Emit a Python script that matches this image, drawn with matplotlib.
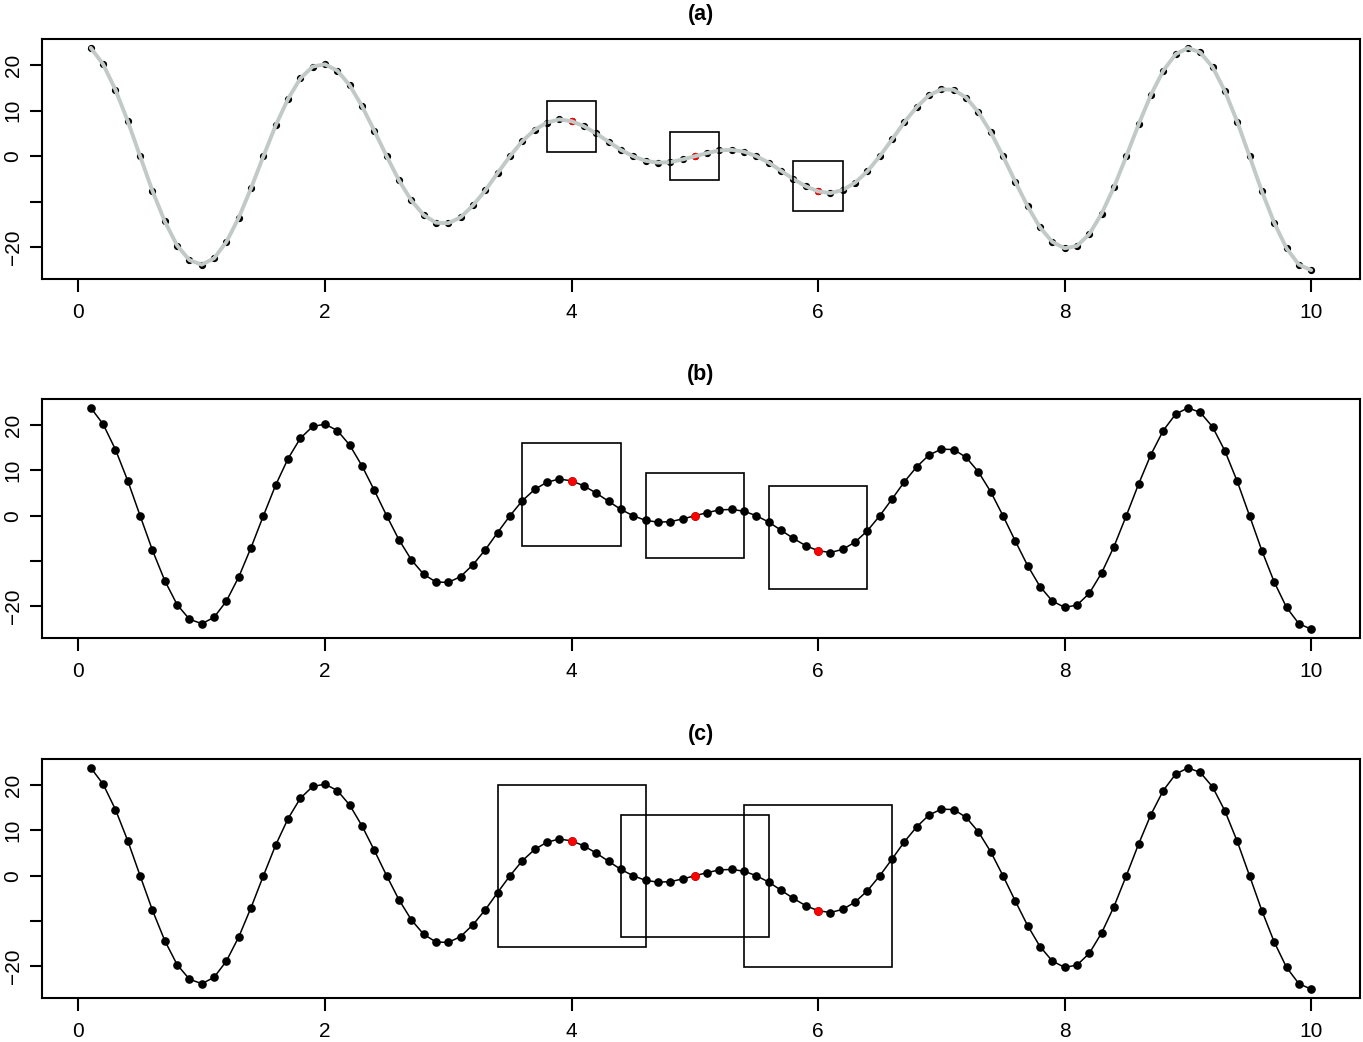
import matplotlib
matplotlib.use("Agg")
import matplotlib.pyplot as plt
from matplotlib.patches import Rectangle
import numpy as np

plt.rcParams['font.family'] = ['Liberation Sans', 'DejaVu Sans']

# x positions 0.1 .. 10.0
x = [round(0.1 * k, 1) for k in range(1, 101)]
y = [23.8, 20.2, 14.6, 7.7, 0.0, -7.6, -14.3, -19.6, -22.8, -23.8,
     -22.4, -18.8, -13.5, -7.0, 0.0, 6.8, 12.6, 17.1, 19.7, 20.2,
     18.8, 15.6, 11.0, 5.6, 0.0, -5.3, -9.7, -12.9, -14.6, -14.7,
     -13.4, -10.8, -7.5, -3.7, 0.0, 3.3, 5.8, 7.4, 8.1, 7.7,
     6.6, 5.0, 3.2, 1.4, 0.0, -1.0, -1.4, -1.3, -0.7, 0.0,
     0.7, 1.3, 1.4, 1.0, 0.0, -1.4, -3.2, -5.0, -6.6, -7.7,
     -8.1, -7.4, -5.8, -3.3, 0.0, 3.7, 7.5, 10.8, 13.4, 14.7,
     14.6, 12.9, 9.7, 5.3, 0.0, -5.6, -11.0, -15.6, -18.8, -20.2,
     -19.7, -17.1, -12.6, -6.8, 0.0, 7.0, 13.5, 18.8, 22.4, 23.8,
     22.8, 19.6, 14.3, 7.6, 0.0, -7.7, -14.6, -20.2, -23.8, -25.0]

highlight_x = [4.0, 5.0, 6.0]
panel_titles = ["(a)", "(b)", "(c)"]
window_halfwidths = [0.2, 0.4, 0.6]
window_pads = [4, 8, 12]
xticks = [0, 2, 4, 6, 8, 10]
yticks = [-20, -10, 0, 10, 20]
yticklabels = ["\u221220", "", "0", "10", "20"]

xa = np.array(x)
ya = np.array(y)

fig = plt.figure(figsize=(13.63, 10.42), dpi=100)
W, H = 1363, 1042
panels_px = [(39, 279), (399, 638), (759, 998)]
left_px, right_px = 42, 1360

xr = xa.max() - xa.min()
yr = ya.max() - ya.min()
xlim = (xa.min() - 0.04 * xr, xa.max() + 0.04 * xr)
ylim = (ya.min() - 0.04 * yr, ya.max() + 0.04 * yr)

for i, (top, bot) in enumerate(panels_px):
    ax = fig.add_axes([left_px / W, 1 - bot / H, (right_px - left_px) / W, (bot - top) / H])
    hi = np.isin(np.round(xa, 1), highlight_x)
    if i == 0:
        ax.plot(xa, ya, 'o', color='black', ms=4.2, zorder=2)
        ax.plot(xa[hi], ya[hi], 'o', color='red', ms=4.2, zorder=3)
        ax.plot(xa, ya, '-', color='#c2cac8', lw=2.8, zorder=4, solid_capstyle='round')
    else:
        ax.plot(xa, ya, '-', color='black', lw=1.1, zorder=2)
        ax.plot(xa, ya, 'o', color='black', ms=5.2, zorder=3)
        ax.plot(xa[hi], ya[hi], 'o', color='red', ms=5.2, zorder=4)
    hw = window_halfwidths[i]
    pad = window_pads[i]
    for cx in highlight_x:
        m = (xa >= cx - hw - 1e-9) & (xa <= cx + hw + 1e-9)
        lo = ya[m].min() - pad
        up = ya[m].max() + pad
        ax.add_patch(Rectangle((cx - hw, lo), 2 * hw, up - lo, fill=False,
                               edgecolor='black', lw=1.2, zorder=5))
    ax.set_xlim(xlim)
    ax.set_ylim(ylim)
    ax.set_xticks(xticks)
    ax.set_xticklabels([str(t) for t in xticks])
    ax.set_yticks(yticks)
    ax.set_yticklabels(yticklabels, rotation=90, va='center')
    ax.tick_params(direction='out', length=9, width=1.5, labelsize=15, pad=8)
    ax.tick_params(axis='y', pad=5)
    for s in ax.spines.values():
        s.set_linewidth(1.5)
    ax.set_title(panel_titles[i], fontsize=15.5, fontweight='bold', pad=14)

fig.savefig("out.png", dpi=100)
